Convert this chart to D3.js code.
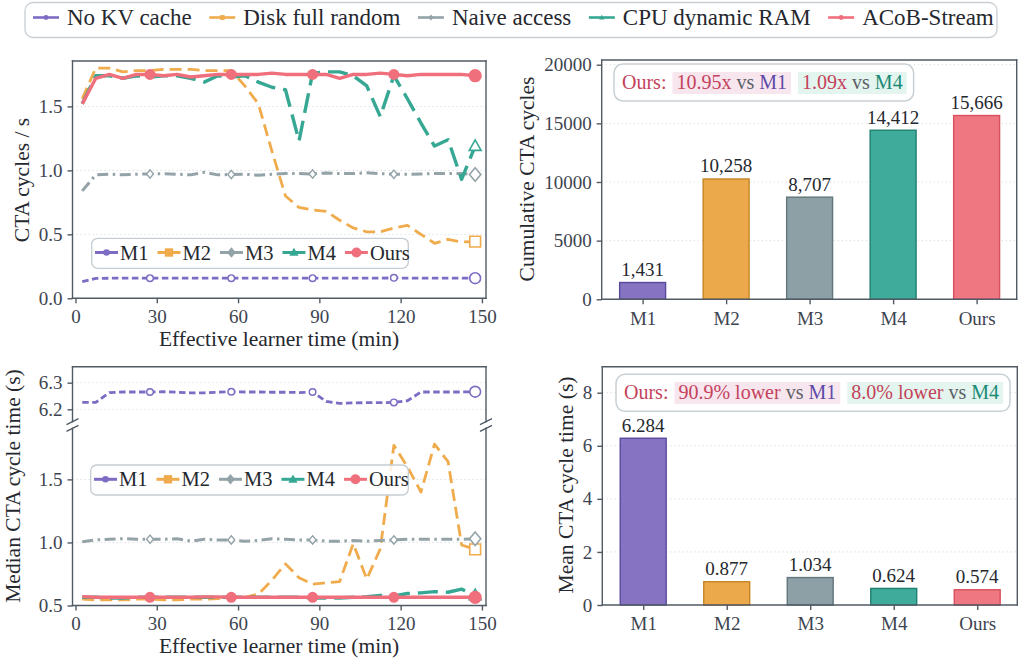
<!DOCTYPE html>
<html>
<head>
<meta charset="utf-8">
<script src="https://cdn.jsdelivr.net/npm/d3@7"></script>
<style>
  body { margin: 0; background: #fff; }
  svg { font-family: "Liberation Serif", "Times New Roman", serif; }
  text { white-space: pre; }
</style>
</head>
<body>
<svg id="chart" width="1021" height="659"></svg>
<script>
// ---- data ----
var times = [2.5, 7.5, 12.5, 17.5, 22.5, 27.5, 32.5, 37.5, 42.5, 47.5, 52.5, 57.5, 62.5, 67.5, 72.5,
             77.5, 82.5, 87.5, 92.5, 97.5, 102.5, 107.5, 112.5, 117.5, 122.5, 127.5, 132.5, 137.5, 142.5, 147.5];

// CTA cycles / s
var rateM1 = [0.13, 0.155, 0.157, 0.157, 0.157, 0.157, 0.157, 0.157, 0.157, 0.157, 0.157, 0.157, 0.157, 0.157, 0.157,
              0.157, 0.157, 0.157, 0.157, 0.157, 0.157, 0.157, 0.157, 0.16, 0.157, 0.157, 0.157, 0.157, 0.157, 0.157];
var rateM2 = [1.56, 1.80, 1.80, 1.77, 1.78, 1.78, 1.79, 1.79, 1.79, 1.78, 1.78, 1.78, 1.66, 1.52, 1.15,
              0.80, 0.71, 0.69, 0.68, 0.61, 0.55, 0.52, 0.52, 0.55, 0.57, 0.50, 0.43, 0.46, 0.44, 0.443];
var rateM3 = [0.84, 0.966, 0.97, 0.965, 0.97, 0.972, 0.975, 0.97, 0.965, 0.985, 0.965, 0.968, 0.97, 0.962, 0.97,
              0.975, 0.975, 0.972, 0.98, 0.975, 0.975, 0.982, 0.975, 0.97, 0.97, 0.972, 0.975, 0.975, 0.975, 0.968];
var rateM4 = [1.52, 1.74, 1.74, 1.72, 1.74, 1.73, 1.74, 1.74, 1.72, 1.69, 1.74, 1.73, 1.74, 1.69, 1.65,
              1.63, 1.23, 1.76, 1.77, 1.77, 1.74, 1.66, 1.42, 1.74, 1.56, 1.37, 1.19, 1.24, 0.93, 1.19];
var rateOurs = [1.52, 1.72, 1.75, 1.72, 1.75, 1.75, 1.74, 1.75, 1.73, 1.74, 1.75, 1.75, 1.75, 1.75, 1.76,
                1.75, 1.75, 1.75, 1.75, 1.72, 1.75, 1.75, 1.76, 1.75, 1.74, 1.75, 1.75, 1.75, 1.75, 1.74];

// median CTA cycle time (s)
var medM1 = [6.226, 6.226, 6.263, 6.265, 6.265, 6.265, 6.266, 6.264, 6.262, 6.262, 6.264, 6.266, 6.265, 6.265, 6.264,
             6.264, 6.263, 6.265, 6.23, 6.222, 6.224, 6.225, 6.225, 6.226, 6.232, 6.265, 6.265, 6.265, 6.265, 6.266];
var medM2 = [0.55, 0.545, 0.545, 0.545, 0.55, 0.55, 0.545, 0.545, 0.55, 0.55, 0.555, 0.56, 0.565, 0.59, 0.70,
             0.83, 0.72, 0.67, 0.68, 0.69, 0.99, 0.71, 0.95, 1.77, 1.60, 1.40, 1.78, 1.64, 0.98, 0.945];
var medM3 = [1.005, 1.02, 1.025, 1.03, 1.025, 1.025, 1.025, 1.03, 1.01, 1.025, 1.02, 1.02, 1.01, 1.015, 1.03,
             1.025, 1.02, 1.02, 1.01, 1.01, 1.015, 1.01, 1.015, 1.02, 1.025, 1.025, 1.025, 1.025, 1.025, 1.03];
var medM4 = [0.565, 0.565, 0.56, 0.56, 0.565, 0.565, 0.565, 0.565, 0.565, 0.565, 0.565, 0.565, 0.565, 0.565, 0.565,
             0.565, 0.565, 0.56, 0.56, 0.56, 0.565, 0.57, 0.58, 0.575, 0.595, 0.60, 0.61, 0.605, 0.63, 0.58];
var medOurs = [0.57, 0.565, 0.565, 0.565, 0.565, 0.565, 0.565, 0.565, 0.565, 0.568, 0.568, 0.565, 0.565, 0.565, 0.565,
               0.565, 0.565, 0.565, 0.565, 0.565, 0.565, 0.565, 0.565, 0.565, 0.565, 0.565, 0.565, 0.565, 0.565, 0.565];

var methods = ["M1", "M2", "M3", "M4", "Ours"];
var longNames = ["No KV cache", "Disk full random", "Naive access", "CPU dynamic RAM", "ACoB-Stream"];
var cumCycles = [1431, 10258, 8707, 14412, 15666];
var meanCycle = [6.284, 0.877, 1.034, 0.624, 0.574];

var xTicks = [0, 30, 60, 90, 120, 150];
var rateTicks = [0, 0.5, 1.0, 1.5];
var medHiTicks = [6.2, 6.3];
var medLoTicks = [0.5, 1.0, 1.5];
var cumTicks = [0, 5000, 10000, 15000, 20000];
var meanTicks = [0, 2, 4, 6, 8];
var markIdx = [5, 11, 17, 23];

// ---- styles ----
var FONT = '"Liberation Serif", "Times New Roman", serif';
var lineCol = ["#7d6bc4", "#efab4c", "#93a3a8", "#35a793", "#f06f7c"];
var barCol = ["#8674c3", "#eba94b", "#8ca0a6", "#3fab9b", "#ef7782"];
var barEdge = ["#5a4a9e", "#c58524", "#62767c", "#1f7f70", "#d9505e"];
var dashes = ["6.5,3.5", "12,6", "11,4.5,2.5,4.5", "20,8", null];
var widths = [2.8, 2.8, 3, 3.4, 3.4];
var shapes = ["circle", "square", "diamond", "triangle", "circle"];
var midMarks = [true, false, true, false, true];
var spine = "#505a64", tickCol = "#3d4450", gridCol = "#d9dee0";

var svg = d3.select("#chart");

function markerPath(type, s) {
  // s = half size
  if (type === "circle") return d3.arc()({innerRadius: 0, outerRadius: s, startAngle: 0, endAngle: 2 * Math.PI});
  if (type === "square") return "M" + (-s) + "," + (-s) + "h" + 2 * s + "v" + 2 * s + "h" + (-2 * s) + "Z";
  if (type === "diamond") return "M0," + (-s * 1.25) + "L" + s * 1.05 + ",0L0," + s * 1.25 + "L" + (-s * 1.05) + ",0Z";
  return "M0," + (-s * 1.15) + "L" + s * 1.1 + "," + s * 0.8 + "L" + (-s * 1.1) + "," + s * 0.8 + "Z";
}

function frame(g, x0, x1, y0, y1, sides) {
  var p = {top: [x0, y0, x1, y0], bottom: [x0, y1, x1, y1], left: [x0, y0, x0, y1], right: [x1, y0, x1, y1]};
  sides.forEach(function(s) {
    g.append("line").attr("x1", p[s][0]).attr("y1", p[s][1]).attr("x2", p[s][2]).attr("y2", p[s][3])
      .attr("stroke", spine).attr("stroke-width", 1.4).attr("stroke-linecap", "square");
  });
}

function styleAxis(a) {
  a.attr("font-family", FONT).attr("font-size", 19);
  a.select(".domain").remove();
  a.selectAll(".tick line").attr("stroke", spine).attr("stroke-width", 1.4);
  a.selectAll(".tick text").attr("fill", tickCol);
}

function grid(g, y, ticks, x0, x1) {
  g.selectAll(null).data(ticks).enter().append("line")
    .attr("x1", x0).attr("x2", x1).attr("y1", function(d) { return y(d); }).attr("y2", function(d) { return y(d); })
    .attr("stroke", gridCol).attr("stroke-width", 0.9).attr("stroke-dasharray", "1.5,2.5");
}

function yLabel(x, y, txt) {
  svg.append("text").attr("transform", "translate(" + x + "," + y + ") rotate(-90)")
    .attr("text-anchor", "middle").attr("font-size", 21.5).attr("fill", "#25282e").text(txt);
}
function xLabel(x, y, txt) {
  svg.append("text").attr("x", x).attr("y", y).attr("text-anchor", "middle")
    .attr("font-size", 21.5).attr("fill", "#25282e").text(txt);
}

function drawSeries(g, x, y, vals, i, clipId) {
  var pts = times.map(function(t, k) { return [t, vals[k]]; });
  var line = d3.line().x(function(d) { return x(d[0]); }).y(function(d) { return y(d[1]); });
  var s = g.append("g").attr("clip-path", clipId ? "url(#" + clipId + ")" : null);
  s.append("path").datum(pts).attr("d", line).attr("fill", "none")
    .attr("stroke", lineCol[i]).attr("stroke-width", widths[i])
    .attr("stroke-dasharray", dashes[i]).attr("stroke-linejoin", "round");
  var filled = (i === 4);
  var small = (i === 4) ? 4.8 : 3.3;
  if (midMarks[i]) {
    markIdx.forEach(function(k) {
      s.append("path").attr("d", markerPath(shapes[i], small))
        .attr("transform", "translate(" + x(pts[k][0]) + "," + y(pts[k][1]) + ")")
        .attr("fill", filled ? lineCol[i] : "#fff").attr("stroke", lineCol[i]).attr("stroke-width", 1.4);
    });
  }
  var last = pts[pts.length - 1];
  s.append("path").attr("d", markerPath(shapes[i], i === 4 ? 5.8 : 5.4))
    .attr("transform", "translate(" + x(last[0]) + "," + y(last[1]) + ")")
    .attr("fill", filled ? lineCol[i] : "#fff").attr("stroke", lineCol[i]).attr("stroke-width", 1.6);
}

function clip(id, x0, y0, w, h) {
  svg.append("clipPath").attr("id", id).append("rect").attr("x", x0).attr("y", y0).attr("width", w).attr("height", h);
}

function plotLegend(x0, yc, boxX, boxY, boxW, boxH) {
  var g = svg.append("g");
  g.append("rect").attr("x", boxX).attr("y", boxY).attr("width", boxW).attr("height", boxH)
    .attr("rx", 6).attr("fill", "#fff").attr("fill-opacity", 0.85).attr("stroke", "#c5cdd2").attr("stroke-width", 1.3);
  var cx = x0;
  methods.forEach(function(m, i) {
    g.append("line").attr("x1", cx).attr("x2", cx + 23).attr("y1", yc).attr("y2", yc)
      .attr("stroke", lineCol[i]).attr("stroke-width", 3);
    g.append("path").attr("d", markerPath(shapes[i], i === 4 ? 5 : (i === 0 ? 3.3 : 4.2)))
      .attr("transform", "translate(" + (cx + 11.5) + "," + yc + ")").attr("fill", lineCol[i]);
    var t = g.append("text").attr("x", cx + 25).attr("y", yc + 7).attr("font-size", 20.5).attr("fill", "#25282e").text(m);
    cx += 25 + t.node().getComputedTextLength() + 9;
  });
}

// ---- top legend ----
(function() {
  var g = svg.append("g");
  g.append("rect").attr("x", 25).attr("y", 2.5).attr("width", 972).attr("height", 35)
    .attr("rx", 8).attr("fill", "#fff").attr("stroke", "#c8ced2").attr("stroke-width", 1.3);
  var cx = 33, yc = 17.5;
  longNames.forEach(function(n, i) {
    g.append("line").attr("x1", cx).attr("x2", cx + 26).attr("y1", yc).attr("y2", yc)
      .attr("stroke", lineCol[i]).attr("stroke-width", 2.6);
    g.append("path").attr("d", markerPath(shapes[i], 2.4))
      .attr("transform", "translate(" + (cx + 13) + "," + yc + ")").attr("fill", lineCol[i]);
    var t = g.append("text").attr("x", cx + 34).attr("y", yc + 7.5).attr("font-size", 23).attr("fill", "#25282e").text(n);
    cx += 34 + t.node().getComputedTextLength() + 17.5;
  });
})();

// ---- top-left: CTA cycles / s ----
var xT = d3.scaleLinear().domain([-1.1, 151.5]).range([72.5, 486]);
(function() {
  var y = d3.scaleLinear().domain([0, 1.855]).range([298.3, 61]);
  var g = svg.append("g");
  grid(g, y, rateTicks.slice(1), 72.5, 486);
  [rateM1, rateM2, rateM3, rateM4, rateOurs].forEach(function(v, i) {
    drawSeries(g, xT, y, v, i, null);
  });
  frame(g, 72.5, 486, 61, 298.3, ["top", "bottom", "left", "right"]);
  g.append("g").attr("transform", "translate(0,298.3)")
    .call(d3.axisBottom(xT).tickValues(xTicks).tickSize(5).tickPadding(6)).call(styleAxis);
  g.append("g").attr("transform", "translate(72.5,0)")
    .call(d3.axisLeft(y).tickValues(rateTicks).tickFormat(d3.format(".1f")).tickSize(5).tickPadding(5)).call(styleAxis);
  plotLegend(95, 252.5, 91.7, 238.3, 316.6, 30);
  yLabel(28.5, 180, "CTA cycles / s");
  xLabel(279, 346, "Effective learner time (min)");
})();

// ---- bottom-left: median cycle time, broken axis ----
(function() {
  var yHi = d3.scaleLinear().domain([6.1535, 6.36]).range([421.7, 366.7]);
  var yLo = d3.scaleLinear().domain([0.5, 1.905]).range([605.5, 428.3]);
  var g = svg.append("g");
  grid(g, yHi, medHiTicks, 72.5, 486);
  grid(g, yLo, medLoTicks.slice(1), 72.5, 486);
  clip("clipHi", 72.5, 366.7, 413.5, 55);
  clip("clipLo", 72.5, 428.3, 413.5, 177.2);
  drawSeries(g, xT, yHi, medM1, 0, "clipHi");
  drawSeries(g, xT, yLo, medM2, 1, "clipLo");
  drawSeries(g, xT, yLo, medM3, 2, "clipLo");
  drawSeries(g, xT, yLo, medM4, 3, "clipLo");
  drawSeries(g, xT, yLo, medOurs, 4, "clipLo");
  frame(g, 72.5, 486, 366.7, 421.7, ["top", "left", "right"]);
  frame(g, 72.5, 486, 428.3, 605.5, ["bottom", "left", "right"]);
  // break marks
  [72.5, 486].forEach(function(xx) {
    [421.7, 428.3].forEach(function(yy) {
      g.append("line").attr("x1", xx - 6).attr("y1", yy + 3).attr("x2", xx + 6).attr("y2", yy - 3)
        .attr("stroke", spine).attr("stroke-width", 1.4);
    });
  });
  g.append("g").attr("transform", "translate(0,605.5)")
    .call(d3.axisBottom(xT).tickValues(xTicks).tickSize(5).tickPadding(6)).call(styleAxis);
  g.append("g").attr("transform", "translate(72.5,0)")
    .call(d3.axisLeft(yHi).tickValues(medHiTicks).tickFormat(d3.format(".1f")).tickSize(5).tickPadding(5)).call(styleAxis);
  g.append("g").attr("transform", "translate(72.5,0)")
    .call(d3.axisLeft(yLo).tickValues(medLoTicks).tickFormat(d3.format(".1f")).tickSize(5).tickPadding(5)).call(styleAxis);
  plotLegend(94, 479.3, 90.7, 465, 317.6, 30);
  yLabel(19.5, 486, "Median CTA cycle time (s)");
  xLabel(279, 653, "Effective learner time (min)");
})();

// ---- callout box ----
var cRed = "#c4425a", cGray = "#5c5f66", cPurple = "#5e4aa8", cTeal = "#1a8a76";
function callout(x, y, h, baseline, pills) {
  var g = svg.append("g");
  var box = g.append("rect").attr("x", x).attr("y", y).attr("height", h).attr("rx", 9)
    .attr("fill", "#fff").attr("fill-opacity", 0.92).attr("stroke", "#c8d0d4").attr("stroke-width", 1.5);
  var cx = x + 8;
  var pre = g.append("text").attr("x", cx).attr("y", baseline).attr("font-size", 20).attr("fill", cRed).text("Ours:");
  cx += pre.node().getComputedTextLength() + 6;
  pills.forEach(function(p) {
    var bg = g.append("rect").attr("x", cx).attr("y", baseline - 16.5).attr("height", 22).attr("fill", p.bg);
    var t = g.append("text").attr("x", cx + 4).attr("y", baseline).attr("font-size", 20);
    p.parts.forEach(function(q) { t.append("tspan").attr("fill", q[1]).text(q[0]); });
    var w = t.node().getComputedTextLength() + 8;
    bg.attr("width", w);
    cx += w + 7;
  });
  box.attr("width", cx - x);
}

function barChart(x0, x1, y0, y1, ymax, vals, ticks, fmt, tfmt) {
  var x = d3.scaleLinear().domain([-0.49, 4.48]).range([x0, x1]);
  var y = d3.scaleLinear().domain([0, ymax]).range([y1, y0]);
  var g = svg.append("g");
  grid(g, y, ticks.slice(1), x0, x1);
  var bw = x(0.55) - x(0);
  g.selectAll(null).data(vals).enter().append("rect")
    .attr("x", function(d, i) { return x(i) - bw / 2; })
    .attr("y", function(d) { return y(d); })
    .attr("width", bw).attr("height", function(d) { return y1 - y(d); })
    .attr("fill", function(d, i) { return barCol[i]; })
    .attr("stroke", function(d, i) { return barEdge[i]; }).attr("stroke-width", 1.4);
  g.selectAll(null).data(vals).enter().append("text")
    .attr("x", function(d, i) { return x(i); })
    .attr("y", function(d) { return y(d) - 6.5; })
    .attr("text-anchor", "middle").attr("font-size", 19).attr("fill", "#25282e")
    .text(function(d) { return fmt(d); });
  frame(g, x0, x1, y0, y1, ["top", "bottom", "left", "right"]);
  g.append("g").attr("transform", "translate(0," + y1 + ")")
    .call(d3.axisBottom(x).tickValues([0, 1, 2, 3, 4]).tickFormat(function(d) { return methods[d]; })
      .tickSize(5).tickPadding(7)).call(styleAxis);
  g.append("g").attr("transform", "translate(" + x0 + ",0)")
    .call(d3.axisLeft(y).tickValues(ticks).tickFormat(tfmt).tickSize(5).tickPadding(5)).call(styleAxis);
}

// ---- top-right: cumulative cycles ----
barChart(601.7, 1016.7, 60, 299.3, 20400, cumCycles, cumTicks, d3.format(","), d3.format("d"));
callout(614, 64, 37, 88.5, [
  {bg: "#f8e6ef", parts: [["10.95x", cRed], [" vs ", cGray], ["M1", cPurple]]},
  {bg: "#e3f5ee", parts: [["1.09x", cRed], [" vs ", cGray], ["M4", cTeal]]}
]);
yLabel(533.5, 179, "Cumulative CTA cycles");

// ---- bottom-right: mean cycle time ----
barChart(602.3, 1017.3, 366.7, 605, 8.98, meanCycle, meanTicks, d3.format(".3f"), d3.format("d"));
callout(616, 374.3, 37, 398.5, [
  {bg: "#f8e6ef", parts: [["90.9% lower", cRed], [" vs ", cGray], ["M1", cPurple]]},
  {bg: "#e3f5ee", parts: [["8.0% lower", cRed], [" vs ", cGray], ["M4", cTeal]]}
]);
yLabel(572.5, 485, "Mean CTA cycle time (s)");
</script>
</body>
</html>
